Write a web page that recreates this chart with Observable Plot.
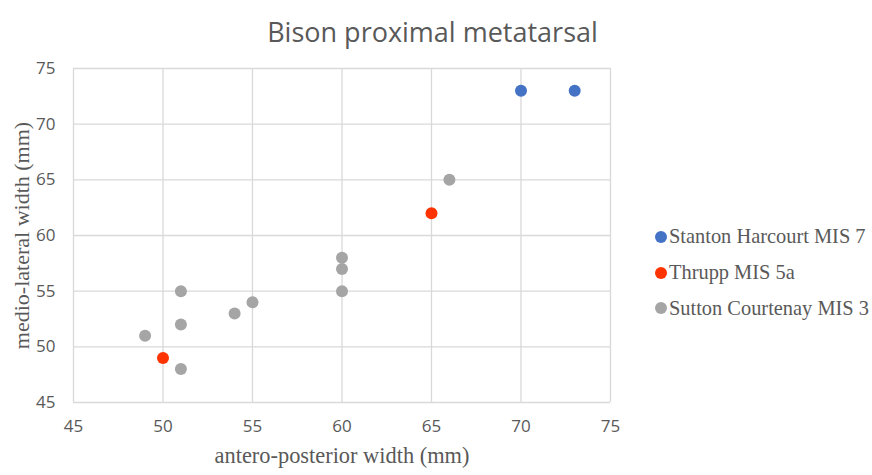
<!DOCTYPE html>
<html><head><meta charset="utf-8">
<script src="https://cdn.jsdelivr.net/npm/d3@7"></script>
<script src="https://cdn.jsdelivr.net/npm/@observablehq/plot@0.6"></script>
<style>
body{margin:0;background:#fff;}
#wrap{position:relative;width:872px;height:475px;}
#legend{position:absolute;left:655px;top:219px;font-family:"Liberation Serif",serif;font-size:20.4px;color:#595959;}
#legend div{height:35.7px;display:flex;align-items:center;white-space:nowrap;}
#legend span.sw{display:inline-block;width:12px;height:12px;border-radius:50%;margin-right:2px;}
</style></head><body>
<div id="wrap"><div id="legend"></div></div>
<script>
const title = "Bison proximal metatarsal";
const xLabel = "antero-posterior width (mm)";
const yLabel = "medio-lateral width (mm)";
const seriesNames = ["Stanton Harcourt MIS 7", "Thrupp MIS 5a", "Sutton Courtenay MIS 3"];
const seriesColors = ["#4472C4", "#FF3300", "#A5A5A5"];
const stantonX = [70, 73];
const stantonY = [73, 73];
const thruppX = [50, 65];
const thruppY = [49, 62];
const suttonX = [49, 51, 51, 51, 54, 55, 60, 60, 60, 66];
const suttonY = [51, 55, 52, 48, 53, 54, 58, 57, 55, 65];
const ticks = [45, 50, 55, 60, 65, 70, 75];

const data = [];
[[stantonX, stantonY], [thruppX, thruppY], [suttonX, suttonY]].forEach(([xs, ys], i) => {
  xs.forEach((x, j) => data.push({x, y: ys[j], s: seriesNames[i]}));
});

const chart = Plot.plot({
  width: 872, height: 475,
  marginLeft: 73, marginRight: 262, marginTop: 68, marginBottom: 73,
  style: {fontFamily: "'Open Sans', sans-serif", fontSize: "17px", color: "#595959", background: "#fff"},
  x: {domain: [45, 75], ticks: ticks},
  y: {domain: [45, 75], ticks: ticks},
  color: {domain: seriesNames, range: seriesColors},
  marks: [
    Plot.gridX(ticks, {stroke: "#d9d9d9", strokeOpacity: 1, strokeWidth: 1.3}),
    Plot.gridY(ticks, {stroke: "#d9d9d9", strokeOpacity: 1, strokeWidth: 1.3}),
    Plot.axisX(ticks, {tickSize: 0, tickPadding: 17, label: null, fill: "#595959"}),
    Plot.axisY(ticks, {tickSize: 0, tickPadding: 18, label: null, fill: "#595959"}),
    Plot.dot(data, {x: "x", y: "y", fill: d => d.s, r: 6, stroke: null}),
    Plot.text([xLabel], {frameAnchor: "bottom", dy: 60, fontFamily: "'Liberation Serif', serif", fontSize: 22.4, fill: "#595959"}),
    Plot.text([yLabel], {frameAnchor: "left", dx: -52, rotate: -90, textAnchor: "middle", fontFamily: "'Liberation Serif', serif", fontSize: 22, fill: "#595959"}),
    Plot.text([title], {frameAnchor: "top", dy: -46, dx: 432 - (73 + (610 - 73) / 2), fontFamily: "'Open Sans', sans-serif", fontSize: 27, fill: "#595959"})
  ]
});
const wrap = document.getElementById("wrap");
wrap.insertBefore(chart, wrap.firstChild);

const legend = document.getElementById("legend");
seriesNames.forEach((n, i) => {
  const row = document.createElement("div");
  const sw = document.createElement("span");
  sw.className = "sw";
  sw.style.background = seriesColors[i];
  row.appendChild(sw);
  row.appendChild(document.createTextNode(n));
  legend.appendChild(row);
});
</script>
</body></html>
